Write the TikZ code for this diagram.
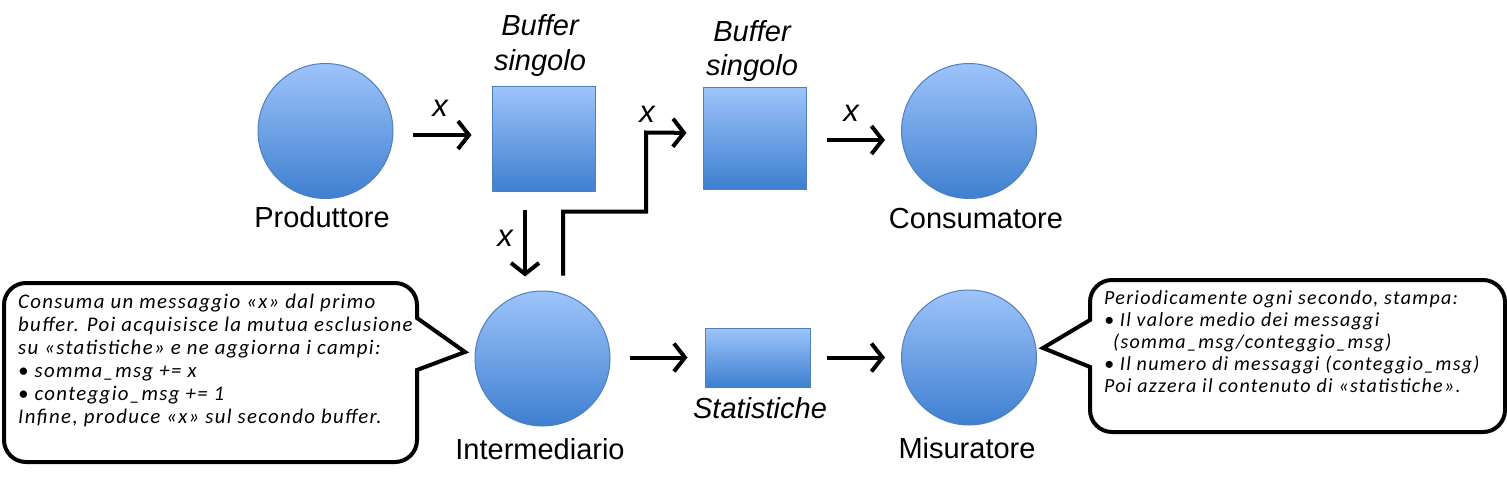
\documentclass[tikz,border=0pt]{standalone}
\usepackage{fontspec}
\setmainfont{Liberation Sans}
\newfontfamily\calfont[LetterSpace=6.5]{Carlito}
\usetikzlibrary{arrows.meta}
\definecolor{gtop}{RGB}{158,196,250}
\definecolor{gmid}{RGB}{130,176,240}
\definecolor{gbot}{RGB}{62,127,208}
\definecolor{gedge}{RGB}{80,128,190}
\begin{document}
\begin{tikzpicture}[x=1pt,y=-1pt,
  blob/.style={draw=gedge, line width=1pt, top color=gtop, middle color=gmid, bottom color=gbot, inner sep=0pt},
  circ/.style={blob, circle, minimum size=135pt},
  box/.style={blob, rectangle},
  lbl/.style={font=\fontsize{29}{33}\selectfont, inner sep=0pt},
  ilbl/.style={font=\fontsize{29}{34}\selectfont\itshape, inner sep=0pt, align=center},
  xl/.style={font=\fontsize{31}{34}\selectfont\itshape, inner sep=0pt},
  arr/.style={line width=4pt, -{Straight Barb[length=11pt,width=28pt,line width=4pt]}},
  callout/.style={draw=black, line width=4pt, fill=white},
  ctext/.style={font=\calfont\itshape\fontsize{20}{23}\selectfont, inner sep=0pt, align=left, anchor=north west}
]
\useasboundingbox (0,0) rectangle (1507,482);

% nodes
\node[circ] (prod) at (325.5,131) {};
\node[circ] (cons) at (969,131) {};
\node[circ] (inter) at (542.5,358.5) {};
\node[circ] (mis) at (969,357.5) {};
\node[box, minimum width=103pt, minimum height=105pt] (buf1) at (543.5,138.5) {};
\node[box, minimum width=103pt, minimum height=102pt] (buf2) at (754.5,138) {};
\node[box, minimum width=105pt, minimum height=59pt] (stat) at (757.5,357.5) {};

% labels
\node[lbl, anchor=base] (lprod) at (322,227) {Produttore};
\node[lbl, anchor=base] (lcons) at (976,228) {Consumatore};
\node[lbl, anchor=base] (linter) at (540,459) {Intermediario};
\node[lbl, anchor=base] (lmis) at (967,458) {Misuratore};
\node[ilbl, anchor=base] (lstat) at (760,418) {Statistiche};
\node[ilbl, anchor=base] (lbuf1a) at (540,35) {Buffer};
\node[ilbl, anchor=base] (lbuf1b) at (540,70) {singolo};
\node[ilbl, anchor=base] (lbuf2a) at (752,41) {Buffer};
\node[ilbl, anchor=base] (lbuf2b) at (752,75) {singolo};

% arrows
\draw[arr, shorten <=19pt, shorten >=20pt] ([yshift=-4pt]prod.east) -- ([yshift=-4pt]prod.east -| buf1.west);
\node[xl] (x1) at (440,108) {x};
\draw[arr, shorten <=18pt, shorten >=14pt] ([xshift=-18.5pt]buf1.south) -- ([xshift=-18.5pt]buf1.south |- inter.north);
\node[xl] (x2) at (505,238) {x};
\coordinate (elb) at ([xshift=20.5pt,yshift=15pt]inter.north);
\draw[arr, shorten >=16pt] (elb) -- ++(0,-64) -| ++(83,-79) -- ([yshift=5pt]buf2.west);
\node[xl] (x3) at (647,114) {x};
\draw[arr, shorten <=20pt, shorten >=16pt] ([yshift=-2pt]buf2.east) -- ([yshift=-2pt]buf2.east -| cons.west);
\node[xl] (x4) at (851,113) {x};
\draw[arr, shorten <=19pt, shorten >=17pt] ([yshift=1pt]inter.east) -- ([yshift=1pt]inter.east -| stat.west);
\draw[arr, shorten <=16pt, shorten >=16pt] (stat.east) -- (stat.east -| mis.west);

% callouts
\draw[callout] (4,380) [rounded corners=22pt] -- (4,283) -- (417,283) [sharp corners] -- (417,318) -- (465,352) -- (417,370) [rounded corners=22pt] -- (417,462) -- (4,462) -- cycle;
\node[ctext, font=\calfont\itshape\fontsize{20.8}{23}\selectfont] (t1) at (18,294) {Consuma un messaggio «x» dal primo\\
buffer. Poi acquisisce la mutua esclusione\\
su «statistiche» e ne aggiorna i campi:\\
• somma\_msg += x\\
• conteggio\_msg += 1\\
Infine, produce «x» sul secondo buffer.};

\draw[callout] (1505,380) [rounded corners=22pt] -- (1505,432) -- (1090,432) [sharp corners] -- (1090,367) -- (1043,348) -- (1090,320) [rounded corners=22pt] -- (1090,280) -- (1505,280) -- cycle;
\node[ctext, font=\calfont\itshape\fontsize{20}{22}\selectfont] (t2) at (1104,290) {Periodicamente ogni secondo, stampa:\\
• Il valore medio dei messaggi\\
\hspace*{9pt}(somma\_msg/conteggio\_msg)\\
• Il numero di messaggi (conteggio\_msg)\\
Poi azzera il contenuto di «statistiche».};
\end{tikzpicture}
\end{document}
